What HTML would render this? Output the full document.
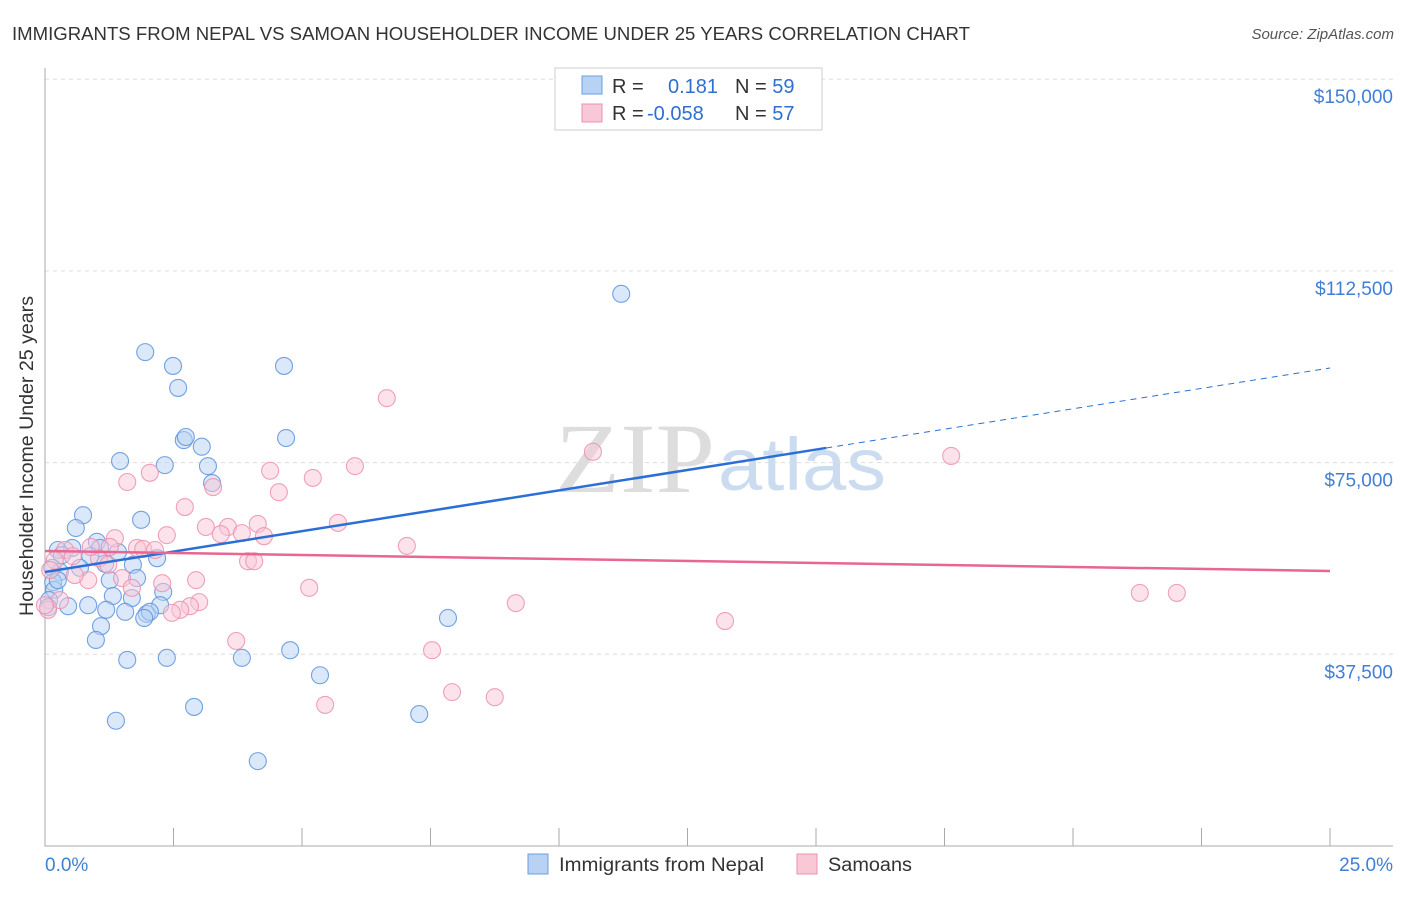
<!DOCTYPE html>
<html><head><meta charset="utf-8"><style>
body{margin:0;background:#fff;font-family:"Liberation Sans",sans-serif}
</style></head><body>
<svg id="c" width="1406" height="892" xmlns="http://www.w3.org/2000/svg">
<text x="12" y="40" font-size="18" fill="#333" textLength="958" lengthAdjust="spacingAndGlyphs">IMMIGRANTS FROM NEPAL VS SAMOAN HOUSEHOLDER INCOME UNDER 25 YEARS CORRELATION CHART</text>
<text x="1394" y="39" font-size="15" fill="#555" font-style="italic" text-anchor="end">Source: ZipAtlas.com</text>
<text x="33" y="456" font-size="19" fill="#333" text-anchor="middle" textLength="320" lengthAdjust="spacingAndGlyphs" transform="rotate(-90 33 456)">Householder Income Under 25 years</text>
<text x="555" y="492" font-size="100" fill="#dddddd" font-family="Liberation Serif" textLength="160" lengthAdjust="spacingAndGlyphs">ZIP</text>
<text x="718" y="490" font-size="74" fill="#ccdcf0" textLength="168" lengthAdjust="spacingAndGlyphs">atlas</text>
<g id="grid"></g><g id="pts"></g><g id="lines"></g>
<g>
<rect x="555" y="68" width="267" height="62" fill="#fff" stroke="#ccc"/>
<rect x="582" y="76" width="20" height="18" fill="#b8d2f4" stroke="#6a9ee0"/>
<rect x="582" y="104" width="20" height="18" fill="#f9c8d7" stroke="#ee90ae"/>
<text x="612" y="93" font-size="20" fill="#333">R = <tspan x="668" fill="#2f6fd0">0.181</tspan><tspan x="735" fill="#333">N = </tspan><tspan fill="#2f6fd0">59</tspan></text>
<text x="612" y="120" font-size="20" fill="#333">R = <tspan x="647" fill="#2f6fd0">-0.058</tspan><tspan x="735" fill="#333">N = </tspan><tspan fill="#2f6fd0">57</tspan></text>
</g>
<g>
<rect x="528" y="854" width="20" height="20" fill="#b8d2f4" stroke="#6a9ee0"/>
<text x="559" y="871" font-size="19" fill="#333" textLength="205" lengthAdjust="spacingAndGlyphs">Immigrants from Nepal</text>
<rect x="797" y="854" width="20" height="20" fill="#f9c8d7" stroke="#ee90ae"/>
<text x="828" y="871" font-size="19" fill="#333" textLength="84" lengthAdjust="spacingAndGlyphs">Samoans</text>
</g>
<text x="45" y="871" font-size="19" fill="#3f7fd6">0.0%</text>
<text x="1393" y="871" font-size="19" fill="#3f7fd6" text-anchor="end">25.0%</text>
</svg>
<script>
const yTicks=[150000,112500,75000,37500];
const yTickLabels=["$150,000","$112,500","$75,000","$37,500"];
const xTicks=[0,2.5,5,7.5,10,12.5,15,17.5,20,22.5,25];
const nepalX=[11.21,1.95,2.49,4.65,2.59,2.70,2.74,3.05,4.69,1.46,2.33,3.17,3.25,0.74,1.87,0.60,1.01,0.25,0.53,1.07,0.33,0.88,1.42,2.18,1.71,1.17,0.68,0.14,0.29,1.79,1.26,0.16,0.18,1.69,2.30,1.32,2.24,0.08,0.84,1.19,1.56,1.98,2.04,0.45,1.93,7.84,1.09,0.99,1.60,2.37,3.83,4.77,5.35,2.90,1.38,7.28,4.14,0.06,0.25];
const nepalY=[108.0,96.6,93.9,93.9,89.6,79.4,80.0,78.1,79.8,75.3,74.5,74.3,71.0,64.7,63.8,62.2,59.5,57.9,58.3,58.3,56.9,56.7,57.5,56.3,55.0,55.2,54.4,54.4,53.6,52.4,52.0,51.6,50.1,48.5,49.7,48.9,47.1,48.1,47.1,46.2,45.8,45.4,45.8,46.9,44.6,44.6,43.0,40.3,36.4,36.8,36.8,38.3,33.4,27.2,24.5,25.8,16.6,46.7,52.0];
const samoaX=[6.65,17.63,10.66,2.04,4.38,6.03,1.60,5.21,3.27,4.55,2.72,5.70,3.13,3.56,4.14,3.42,3.83,4.26,2.37,1.36,7.04,1.79,1.91,2.14,1.05,1.26,0.39,0.54,0.19,0.89,3.95,4.07,1.50,0.84,2.28,2.94,5.14,1.69,21.30,22.02,9.16,3.00,2.82,2.63,2.47,13.23,3.72,7.53,7.92,8.75,5.45,0.06,0.10,0.58,1.23,0.29,0.0];
const samoaY=[87.6,76.3,77.1,73.0,73.4,74.3,71.2,72.0,70.2,69.2,66.3,63.2,62.4,62.4,63.0,61.0,61.2,60.6,60.8,60.2,58.7,58.3,58.1,57.9,56.3,58.5,57.9,56.7,55.9,58.5,55.7,55.7,52.4,52.0,51.4,52.0,50.5,50.5,49.5,49.5,47.5,47.7,46.9,46.2,45.6,44.0,40.1,38.3,30.1,29.1,27.6,46.2,54.0,53.0,55.0,48.1,47.1];
const nepalTrend=[53.6,93.5];
const samoaTrend=[57.7,53.8];
const NS="http://www.w3.org/2000/svg";
const X=v=>45+v*51.4, Y=v=>846-v/195.6;
function mk(t,a,p){const e=document.createElementNS(NS,t);for(const k in a)e.setAttribute(k,a[k]);p.appendChild(e);return e;}
const g=document.getElementById('grid');
yTicks.forEach((t,i)=>{
 const l=mk('line',{x1:45,x2:1393,y1:Y(t),y2:Y(t),stroke:'#ddd','stroke-dasharray':'4,4'},g);
 
 
 const tx=mk('text',{x:1393,y:Y(t)+24,'font-size':19,fill:'#3f7fd6','text-anchor':'end'},g);
 tx.textContent=yTickLabels[i];
 
 
});
const ax=mk('path',{d:'M45 68V846H1393',stroke:'#aaa',fill:'none'},g);


xTicks.forEach(t=>{
 const l=mk('line',{x1:X(t),x2:X(t),y1:828,y2:846,stroke:'#aaa'},g);
 
 
});
const p=document.getElementById('pts');
function dots(xs,ys,fill,stroke,name){xs.forEach((x,i)=>{
 const c=mk('circle',{cx:X(x),cy:Y(ys[i]*1000),r:8.5,fill:fill,'fill-opacity':0.5,stroke:stroke,'stroke-width':1.1,'stroke-opacity':0.85},p);
 
 
});}
dots(nepalX,nepalY,'#b8d2f4','#5b93db','nepal-point');
dots(samoaX,samoaY,'#f9c8d7','#ec8fae','samoan-point');
const L=document.getElementById('lines');
const xs=15.2, yb=v=>nepalTrend[0]+(nepalTrend[1]-nepalTrend[0])*v/25;
let a=mk('line',{x1:X(0),y1:Y(yb(0)*1000),x2:X(xs),y2:Y(yb(xs)*1000),stroke:'#2b6fd6','stroke-width':2.5},L);


a=mk('line',{x1:X(xs),y1:Y(yb(xs)*1000),x2:X(25),y2:Y(yb(25)*1000),stroke:'#2b6fd6','stroke-width':1,'stroke-dasharray':'6,5'},L);


a=mk('line',{x1:X(0),y1:Y(samoaTrend[0]*1000),x2:X(25),y2:Y(samoaTrend[1]*1000),stroke:'#e8668f','stroke-width':2.5},L);


</script>
</body></html>
